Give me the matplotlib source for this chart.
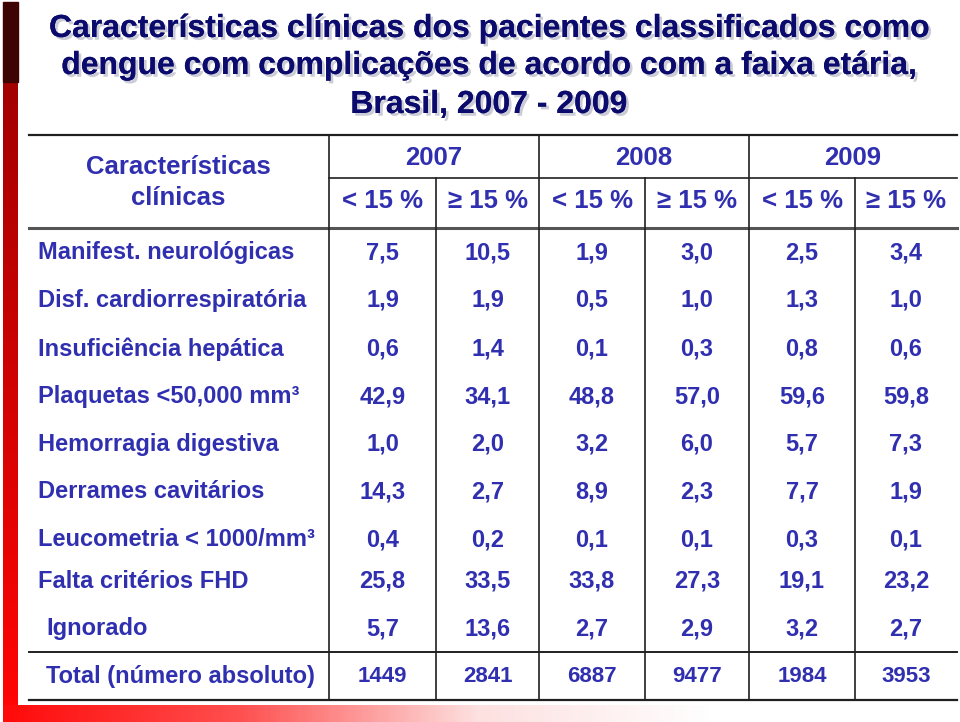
import numpy as np
import matplotlib
matplotlib.use("Agg")
import matplotlib.pyplot as plt
import matplotlib.patheffects as pe

plt.rcParams['font.family'] = ['Liberation Sans', 'DejaVu Sans']

title_lines = ["Características clínicas dos pacientes classificados como",
               "dengue com complicações de acordo com a faixa etária,",
               "Brasil, 2007 - 2009"]
years = ["2007", "2008", "2009"]
age_groups = ["< 15 %", "≥ 15 %"]
row_labels = ["Manifest. neurológicas", "Disf. cardiorrespiratória",
              "Insuficiência hepática", "Plaquetas <50,000 mm³",
              "Hemorragia digestiva", "Derrames cavitários",
              "Leucometria < 1000/mm³", "Falta critérios FHD", "Ignorado"]
v2007_lt15 = [7.5, 1.9, 0.6, 42.9, 1.0, 14.3, 0.4, 25.8, 5.7]
v2007_ge15 = [10.5, 1.9, 1.4, 34.1, 2.0, 2.7, 0.2, 33.5, 13.6]
v2008_lt15 = [1.9, 0.5, 0.1, 48.8, 3.2, 8.9, 0.1, 33.8, 2.7]
v2008_ge15 = [3.0, 1.0, 0.3, 57.0, 6.0, 2.3, 0.1, 27.3, 2.9]
v2009_lt15 = [2.5, 1.3, 0.8, 59.6, 5.7, 7.7, 0.3, 19.1, 3.2]
v2009_ge15 = [3.4, 1.0, 0.6, 59.8, 7.3, 1.9, 0.1, 23.2, 2.7]
totals = [1449, 2841, 6887, 9477, 1984, 3953]
total_label = "Total (número absoluto)"

columns = [v2007_lt15, v2007_ge15, v2008_lt15, v2008_ge15, v2009_lt15, v2009_ge15]

fig = plt.figure(figsize=(9.6, 7.22), dpi=100)
ax = fig.add_axes([0, 0, 1, 1])
ax.set_xlim(0, 960)
ax.set_ylim(722, 0)
ax.axis('off')

# left red bar and bottom gradient bar
bar = np.linspace(0, 1, 200)[:, None]
left_cmap = matplotlib.colors.LinearSegmentedColormap.from_list('l', ['#a30000', '#ff0505'])
ax.imshow(bar, extent=(3, 18, 705, 82), cmap=left_cmap, aspect='auto', zorder=1)
ax.add_patch(plt.Rectangle((3, 2), 15, 80, color='#3e0404', zorder=1))
bottom_cmap = matplotlib.colors.LinearSegmentedColormap.from_list('b', ['#ff0a0a', '#ff5050', '#fde0e0', '#ffffff'])
ax.imshow(np.linspace(0, 1, 300)[None, :], extent=(3, 715, 722, 705), cmap=bottom_cmap, aspect='auto', zorder=1)

# title
navy = '#0b0b6e'
shadow = [pe.withSimplePatchShadow(offset=(2, -2), shadow_rgbFace='#9a9ab0', alpha=0.5), pe.Normal()]
for line, yb in zip(title_lines, [37, 74, 113]):
    ax.text(489, yb, line, ha='center', va='baseline', fontsize=23, fontweight='bold',
            color=navy, path_effects=shadow)

blue = '#2f2fb0'
col_edges = [329, 436, 539, 645, 749, 855, 957]
col_centers = [(col_edges[i] + col_edges[i + 1]) / 2 for i in range(6)]

# grid lines
ax.plot([29, 957], [135, 135], color='#202020', lw=1.6)
ax.plot([329, 957], [178, 178], color='#202020', lw=1.2)
ax.plot([29, 957], [228, 228], color='#555555', lw=2.2)
ax.plot([29, 957], [652, 652], color='#202020', lw=1.4)
ax.plot([29, 957], [700, 700], color='#202020', lw=1.6)
for i, x in enumerate(col_edges[:-1]):
    top = 135 if i % 2 == 0 else 178
    ax.plot([x, x], [top, 700], color='#202020', lw=1.2)

# header
hdr = dict(ha='center', va='center', fontsize=18.5, fontweight='bold', color=blue)
ax.text(178, 167, "Características", **hdr)
ax.text(178, 198, "clínicas", **hdr)
for i, y in enumerate(years):
    ax.text((col_edges[2 * i] + col_edges[2 * i + 2]) / 2, 158, y, **hdr)
for i in range(6):
    ax.text(col_centers[i], 201, age_groups[i % 2], **hdr)

# body
row_y = [253, 300, 349, 397, 444, 492, 540, 581, 629]
for r, lab in enumerate(row_labels):
    lx = 46 if lab == "Ignorado" else 38
    ax.text(lx, row_y[r], lab, ha='left', va='center', fontsize=17, fontweight='bold', color=blue)
    for c in range(6):
        s = f"{columns[c][r]:.1f}".replace('.', ',')
        ax.text(col_centers[c], row_y[r], s, ha='center', va='center', fontsize=17,
                fontweight='bold', color=blue)
ax.text(46, 677, total_label, ha='left', va='center', fontsize=17, fontweight='bold', color=blue)
for c in range(6):
    ax.text(col_centers[c], 677, str(totals[c]), ha='center', va='center', fontsize=16,
            fontweight='bold', color=blue)

fig.savefig('out.png', dpi=100)
